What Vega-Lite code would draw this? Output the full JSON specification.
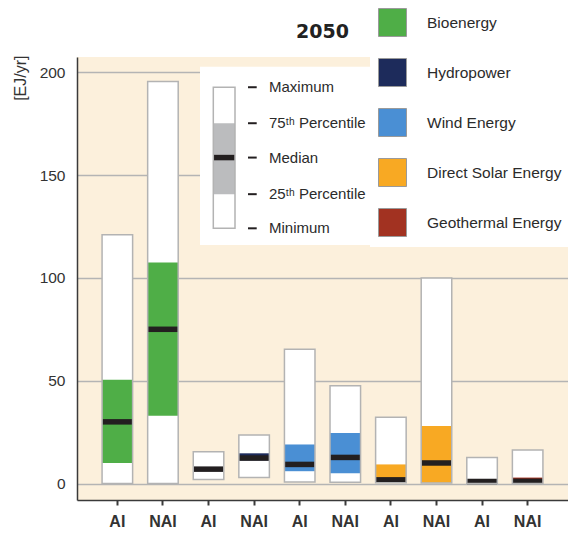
{
  "$schema": "https://vega.github.io/schema/vega-lite/v6.json",
  "width": 491,
  "height": 443,
  "autosize": "none",
  "padding": {"left": 77, "top": 57, "right": 0, "bottom": 33},
  "background": "white",
  "config": {
    "view": {"fill": "#fcf0dc", "stroke": null},
    "font": "Liberation Sans, Arial, sans-serif"
  },
  "title": {
    "text": "2050",
    "font": "DejaVu Sans, sans-serif",
    "fontSize": 19,
    "fontWeight": "bold",
    "color": "#222222",
    "anchor": "middle",
    "frame": "group",
    "baseline": "bottom",
    "offset": 0,
    "dy": 61
  },
  "datasets": {
    "bars": [
      {"bar": "Bioenergy AI", "tech": "Bioenergy", "region": "AI", "min": 0, "q1": 10, "median": 30, "q3": 50.5, "max": 121},
      {"bar": "Bioenergy NAI", "tech": "Bioenergy", "region": "NAI", "min": 0, "q1": 33, "median": 75, "q3": 107.5, "max": 195.5},
      {"bar": "Hydropower AI", "tech": "Hydropower", "region": "AI", "min": 2, "q1": 6.3, "median": 7, "q3": 7.7, "max": 15.5},
      {"bar": "Hydropower NAI", "tech": "Hydropower", "region": "NAI", "min": 3, "q1": 11.2, "median": 12.4, "q3": 14.7, "max": 23.6},
      {"bar": "Wind Energy AI", "tech": "Wind Energy", "region": "AI", "min": 0.8, "q1": 6, "median": 9.3, "q3": 19, "max": 65.3},
      {"bar": "Wind Energy NAI", "tech": "Wind Energy", "region": "NAI", "min": 0.6, "q1": 5, "median": 12.7, "q3": 24.6, "max": 47.6},
      {"bar": "Direct Solar Energy AI", "tech": "Direct Solar Energy", "region": "AI", "min": 0.4, "q1": 0.6, "median": 1.8, "q3": 9.3, "max": 32.2},
      {"bar": "Direct Solar Energy NAI", "tech": "Direct Solar Energy", "region": "NAI", "min": 0.3, "q1": 0.4, "median": 10, "q3": 28, "max": 100},
      {"bar": "Geothermal Energy AI", "tech": "Geothermal Energy", "region": "AI", "min": 0, "q1": 0, "median": 1, "q3": 1.4, "max": 12.7},
      {"bar": "Geothermal Energy NAI", "tech": "Geothermal Energy", "region": "NAI", "min": 0, "q1": 0, "median": 1.1, "q3": 2.9, "max": 16.3}
    ],
    "keybox": [
      {"kmin": 124.1, "kq1": 140.7, "kmed": 158.5, "kq3": 175.2, "kmax": 192.7}
    ],
    "keylabels": [
      {"label": "Maximum", "v": 192.7},
      {"label": "75ᵗʰ Percentile", "v": 175.2},
      {"label": "Median", "v": 158.5},
      {"label": "25ᵗʰ Percentile", "v": 140.7},
      {"label": "Minimum", "v": 124.1}
    ]
  },
  "layer": [
    {
      "data": {"name": "bars"},
      "encoding": {
        "x": {
          "field": "bar",
          "type": "nominal",
          "sort": null,
          "scale": {"paddingInner": 0.33, "paddingOuter": 0.55},
          "axis": {
            "title": null,
            "labelExpr": "slice(datum.value, lastindexof(datum.value, ' ') + 1)",
            "labelAngle": 0,
            "labelFontSize": 16,
            "labelFontWeight": "bold",
            "labelColor": "#333333",
            "labelPadding": 8,
            "domainColor": "#3a3a3a",
            "domainWidth": 1.5,
            "tickColor": "#3a3a3a",
            "tickSize": 5,
            "tickWidth": 2,
            "grid": false
          }
        }
      },
      "layer": [
        {
          "mark": {"type": "rect", "fill": "white"},
          "encoding": {
            "y": {
              "field": "min",
              "type": "quantitative",
              "title": "[EJ/yr]",
              "scale": {"domain": [-8, 207.4], "nice": false, "zero": false},
              "axis": {
                "values": [0, 50, 100, 150, 200],
                "grid": true,
                "gridColor": "#b4b4b4",
                "gridWidth": 1.5,
                "ticks": false,
                "domainColor": "#3a3a3a",
                "domainWidth": 1.5,
                "labelFontSize": 15.5,
                "labelColor": "#333333",
                "labelPadding": 12,
                "titleAngle": -90,
                "titleAlign": "right",
                "titleBaseline": "middle",
                "titleX": -57,
                "titleY": -2,
                "titleFontSize": 16,
                "titleFontWeight": "normal",
                "titleColor": "#333333"
              }
            },
            "y2": {"field": "max"}
          }
        },
        {
          "mark": {"type": "rect"},
          "encoding": {
            "y": {"field": "q1", "type": "quantitative", "title": "[EJ/yr]"},
            "y2": {"field": "q3"},
            "color": {
              "field": "tech",
              "type": "nominal",
              "scale": {
                "domain": ["Bioenergy", "Hydropower", "Wind Energy", "Direct Solar Energy", "Geothermal Energy"],
                "range": ["#4fae47", "#1d2b5b", "#4a8fd4", "#f8a923", "#a23221"]
              },
              "legend": {
                "orient": "none",
                "legendX": 293,
                "legendY": -57,
                "title": null,
                "symbolType": "square",
                "symbolSize": 784,
                "symbolStrokeColor": "#9a9a9a",
                "symbolStrokeWidth": 1,
                "symbolOpacity": 1,
                "labelFontSize": 15.5,
                "labelColor": "#2b2b2b",
                "labelOffset": 20,
                "labelLimit": 300,
                "rowPadding": 17,
                "padding": 8,
                "fillColor": "white"
              }
            }
          }
        },
        {
          "mark": {"type": "tick", "color": "#231f20", "size": 30, "thickness": 5.5, "opacity": 1},
          "encoding": {
            "y": {"field": "median", "type": "quantitative", "title": "[EJ/yr]"}
          }
        },
        {
          "mark": {"type": "rect", "fill": "transparent", "stroke": "#b3b3b3", "strokeWidth": 1.5},
          "encoding": {
            "y": {"field": "min", "type": "quantitative", "title": "[EJ/yr]"},
            "y2": {"field": "max"}
          }
        }
      ]
    },
    {
      "layer": [
        {
          "data": {"name": "keybox"},
          "mark": {"type": "rect", "fill": "white"},
          "encoding": {
            "x": {"datum": 25.05, "type": "quantitative", "scale": {"domain": [0, 100], "nice": false}, "axis": null},
            "x2": {"datum": 60.1},
            "y": {"datum": 202.6, "type": "quantitative"},
            "y2": {"datum": 116}
          }
        },
        {
          "data": {"name": "keybox"},
          "mark": {"type": "rect", "fill": "white"},
          "encoding": {
            "x": {"datum": 27.76, "type": "quantitative", "axis": null},
            "x2": {"datum": 32.18},
            "y": {"field": "kmin", "type": "quantitative", "title": "[EJ/yr]"},
            "y2": {"field": "kmax"}
          }
        },
        {
          "data": {"name": "keybox"},
          "mark": {"type": "rect", "fill": "#bbbcbe"},
          "encoding": {
            "x": {"datum": 27.76, "type": "quantitative", "axis": null},
            "x2": {"datum": 32.18},
            "y": {"field": "kq1", "type": "quantitative", "title": "[EJ/yr]"},
            "y2": {"field": "kq3"}
          }
        },
        {
          "data": {"name": "keybox"},
          "mark": {"type": "rule", "color": "#231f20", "strokeWidth": 5.5},
          "encoding": {
            "x": {"datum": 27.76, "type": "quantitative", "axis": null},
            "x2": {"datum": 32.18},
            "y": {"field": "kmed", "type": "quantitative", "title": "[EJ/yr]"}
          }
        },
        {
          "data": {"name": "keybox"},
          "mark": {"type": "rect", "fill": "transparent", "stroke": "#b3b3b3", "strokeWidth": 1.5},
          "encoding": {
            "x": {"datum": 27.76, "type": "quantitative", "axis": null},
            "x2": {"datum": 32.18},
            "y": {"field": "kmin", "type": "quantitative", "title": "[EJ/yr]"},
            "y2": {"field": "kmax"}
          }
        },
        {
          "data": {"name": "keylabels"},
          "mark": {"type": "rule", "color": "#231f20", "strokeWidth": 2},
          "encoding": {
            "x": {"datum": 34.83, "type": "quantitative", "axis": null},
            "x2": {"datum": 36.6},
            "y": {"field": "v", "type": "quantitative", "title": "[EJ/yr]"}
          }
        },
        {
          "data": {"name": "keylabels"},
          "mark": {"type": "text", "align": "left", "baseline": "middle", "fontSize": 15, "color": "#2b2b2b"},
          "encoding": {
            "x": {"datum": 39.1, "type": "quantitative", "axis": null},
            "y": {"field": "v", "type": "quantitative", "title": "[EJ/yr]"},
            "text": {"field": "label"}
          }
        }
      ]
    }
  ],
  "resolve": {"scale": {"x": "independent"}}
}
